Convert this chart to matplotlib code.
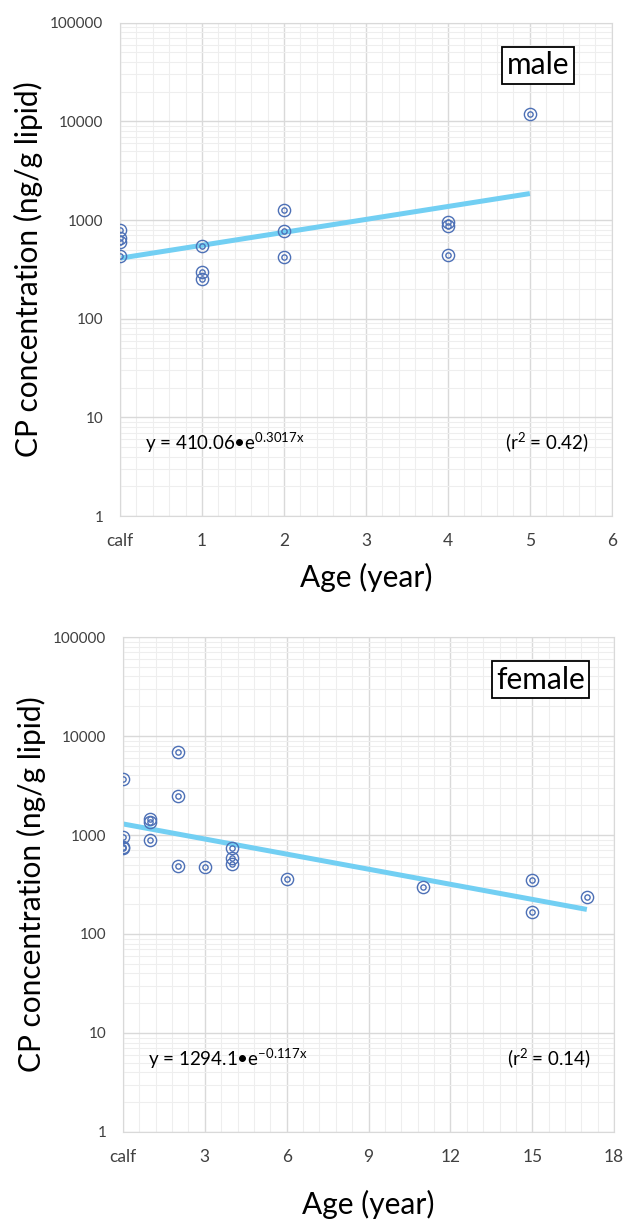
import numpy as np
import matplotlib
matplotlib.use("Agg")
from matplotlib import pyplot as plt
from matplotlib.ticker import FixedLocator, MultipleLocator, LogLocator, NullFormatter

plt.rcParams['font.family'] = ['Lato', 'DejaVu Sans']
plt.rcParams['mathtext.fontset'] = 'custom'
plt.rcParams['mathtext.rm'] = 'Lato'

# male data (age 0 = calf)
male_age = [0, 0, 0, 0, 1, 1, 1, 2, 2, 2, 4, 4, 4, 5]
male_cp = [790, 650, 600, 435, 540, 300, 250, 1250, 780, 420, 960, 875, 445, 12000]
male_a, male_b = 410.06, 0.3017
male_fit_range = [0, 5]
male_xticks = [0, 1, 2, 3, 4, 5, 6]
male_xlabels = ["calf", "1", "2", "3", "4", "5", "6"]

# female data
female_age = [0, 0, 0, 0, 1, 1, 1, 2, 2, 2, 3, 4, 4, 4, 6, 11, 15, 15, 17]
female_cp = [3700, 960, 765, 735, 1440, 1360, 890, 6950, 2460, 490, 480, 735, 580, 510, 360, 295, 350, 165, 237]
female_a, female_b = 1294.1, -0.117
female_fit_range = [0, 17]
female_xticks = [0, 3, 6, 9, 12, 15, 18]
female_xlabels = ["calf", "3", "6", "9", "12", "15", "18"]

y_ticks = [1, 10, 100, 1000, 10000, 100000]
y_labels = ["1", "10", "100", "1000", "10000", "100000"]

marker_col = "#4d70b6"
line_col = "#72cff3"


def panel(ax, age, cp, a, b, fit_range, xticks, xlabels, sex, eq, r2, xlab_y):
    ax.set_yscale("log")
    ax.set_ylim(1, 100000)
    ax.set_xlim(xticks[0], xticks[-1])

    xf = np.linspace(fit_range[0], fit_range[1], 100)
    ax.plot(xf, a * np.exp(b * xf), color=line_col, lw=3.6, zorder=2, solid_capstyle="butt")
    ax.plot(age, cp, ls="none", marker="o", ms=8.8, mfc="none", mec=marker_col, mew=1.0, zorder=3)
    ax.plot(age, cp, ls="none", marker="o", ms=3.8, mfc="none", mec=marker_col, mew=1.0, zorder=3)

    ax.yaxis.set_major_locator(FixedLocator(y_ticks))
    ax.set_yticklabels(y_labels)
    ax.yaxis.set_minor_locator(LogLocator(base=10, subs=np.arange(2, 10)))
    ax.yaxis.set_minor_formatter(NullFormatter())
    ax.xaxis.set_major_locator(FixedLocator(xticks))
    ax.set_xticklabels(xlabels)
    ax.xaxis.set_minor_locator(MultipleLocator((xticks[1] - xticks[0]) / 5))

    ax.grid(which="major", color="#d9d9d9", lw=1.0)
    ax.grid(which="minor", color="#eeeeee", lw=0.8)
    ax.set_axisbelow(True)
    for s in ax.spines.values():
        s.set_color("#d9d9d9")
    ax.tick_params(which="both", length=0)
    ax.tick_params(axis="x", pad=12, labelsize=12.5, labelcolor="#404040")
    ax.tick_params(axis="y", pad=12, labelsize=11, labelcolor="#404040")

    ax.set_ylabel("CP concentration (ng/g lipid)", fontsize=21.5)
    ax.yaxis.set_label_coords(-0.157, 0.5)
    ax.set_xlabel("Age (year)", fontsize=21.5)
    ax.xaxis.set_label_coords(0.5, xlab_y)

    ax.text(0.85, 0.914, sex, transform=ax.transAxes, fontsize=21.5, ha="center", va="center",
            bbox=dict(boxstyle="square,pad=0.15", fc="white", ec="black", lw=1.3))
    ax.text(0.05, 0.148, eq, transform=ax.transAxes, fontsize=13.5, ha="left", va="center")
    ax.text(0.953, 0.148, r2, transform=ax.transAxes, fontsize=13.5, ha="right", va="center")


fig = plt.figure(figsize=(6.42, 12.19), dpi=100)
ax1 = fig.add_axes([0.187, 0.5767, 0.766, 0.4047])
ax2 = fig.add_axes([0.1916, 0.0714, 0.765, 0.406])

panel(ax1, male_age, male_cp, male_a, male_b, male_fit_range, male_xticks, male_xlabels, "male",
      r"y = 410.06•e$^{\mathregular{0.3017x}}$", r"(r$^{\mathregular{2}}$ = 0.42)", -0.095)
panel(ax2, female_age, female_cp, female_a, female_b, female_fit_range, female_xticks, female_xlabels, "female",
      r"y = 1294.1•e$^{\mathregular{-0.117x}}$", r"(r$^{\mathregular{2}}$ = 0.14)", -0.118)

fig.savefig("out.png", dpi=100)
